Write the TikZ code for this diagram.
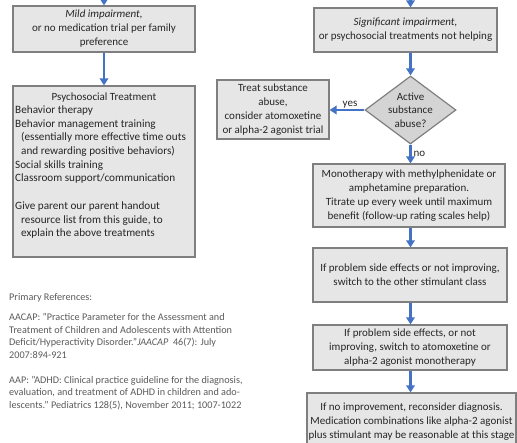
\documentclass[tikz,border=0pt]{standalone}
\usepackage{fontspec}
\setmainfont{Carlito}
\usetikzlibrary{arrows.meta,shapes.geometric,calc}

\definecolor{boxfill}{HTML}{E6E6E6}
\definecolor{boxline}{HTML}{7F7F7F}
\definecolor{diafill}{HTML}{D4D4D4}
\definecolor{flow}{HTML}{4472C4}
\definecolor{ink}{HTML}{262626}
\definecolor{refink}{HTML}{5A5A5A}

\begin{document}
\begin{tikzpicture}[x=1pt,y=-1pt,
  box/.style={draw=boxline, fill=boxfill, line width=1.2pt, inner sep=0pt,
    align=center, text=ink, font=\fontsize{11}{14}\selectfont},
  decision/.style={diamond, draw=boxline, fill=diafill, line width=1.2pt,
    inner sep=0pt},
  boxtext/.style={inner sep=0pt, text=ink, font=\fontsize{11}{13.5}\selectfont},
  listtext/.style={inner sep=0pt, text=ink, align=left,
    font=\fontsize{11.2}{13.7}\selectfont},
  reftext/.style={inner sep=0pt, text=refink, align=left,
    font=\fontsize{10.2}{12.5}\selectfont},
  flowarrow/.style={draw=flow, line width=2.2pt,
    -{Triangle[width=8.5pt,length=7pt]}},
]
\useasboundingbox (0,0) rectangle (517,442);

% ---- left column: non-medication path
\node[box, minimum width=182, minimum height=46] (mild) at (104,29)
  {\textit{Mild impairment,}\\or no medication trial per family\\preference};
\node[box, minimum width=182, minimum height=171] (psych) at (104,171.5) {};
\node[boxtext] (psyhead) at (104,97.5) {Psychosocial Treatment};
\node[listtext, anchor=north west] (psylist) at (15,105.5)
  {Behavior therapy\\
   Behavior management training\\
   \hspace*{6pt}(essentially more effective time outs\\
   \hspace*{6pt}and rewarding positive behaviors)\\
   Social skills training\\
   Classroom support/communication\\[13.7pt]
   Give parent our parent handout\\
   \hspace*{6pt}resource list from this guide, to\\
   \hspace*{6pt}explain the above treatments};

% ---- right column: medication path
\node[box, minimum width=183, minimum height=44] (sig) at (405.5,30)
  {\textit{Significant impairment,}\\or psychosocial treatments not helping};
\node[decision, minimum width=91, minimum height=68] (dia) at (410.5,110) {};
\node[boxtext, align=center] (diatext) at (410.5,110)
  {Active\\substance\\abuse?};
\node[box, minimum width=112, minimum height=59] (treat) at (273,109.5)
  {Treat substance\\abuse,\\consider atomoxetine\\or alpha-2 agonist trial};
\node[box, minimum width=192, minimum height=63] (mono) at (409,195.5)
  {Monotherapy with methylphenidate or\\amphetamine preparation.\\
   Titrate up every week until maximum\\benefit (follow-up rating scales help)};
\node[box, minimum width=194, minimum height=54] (other) at (410,275)
  {If problem side effects or not improving,\\switch to the other stimulant class};
\node[box, minimum width=194, minimum height=45] (atomo) at (410,347.5)
  {If problem side effects, or not\\improving, switch to atomoxetine or\\alpha-2 agonist monotherapy};
\node[box, minimum width=209, minimum height=57] (recon) at (411.5,421.5)
  {If no improvement, reconsider diagnosis.\\Medication combinations like alpha-2 agonist\\plus stimulant may be reasonable at this stage};

% ---- connectors
\coordinate (mildin) at (104,-3);
\coordinate (sigin) at (410.5,-3);
\draw[flowarrow] (mildin) -- (mild.north);
\draw[flowarrow] (mild.south) -- (psych.north);
\draw[flowarrow] (sigin) -- (sigin |- sig.north);
\draw[flowarrow] (dia.north |- sig.south) -- (dia.north);
\draw[flowarrow] (dia.west) -- (treat.east |- dia.west)
  node[midway, above=1pt, xshift=3pt, boxtext] (yes) {yes};
\draw[flowarrow] (dia.south) -- (dia.south |- mono.north)
  node[midway, right=2pt, boxtext] (no) {no};
\draw[flowarrow] (dia.south |- mono.south) -- (dia.south |- other.north);
\draw[flowarrow] (dia.south |- other.south) -- (dia.south |- atomo.north);
\draw[flowarrow] (dia.south |- atomo.south) -- (dia.south |- recon.north);

% ---- references
\node[reftext, anchor=north west] (refhead) at (9,293) {Primary References:};
\node[reftext, anchor=north west] (refbody) at (9,313.5)
  {AACAP: "Practice Parameter for the Assessment and\\
   Treatment of Children and Adolescents with Attention\\
   Deficit/Hyperactivity Disorder."\textit{JAACAP}\ \ 46(7): July\\
   2007:894-921\\[12.5pt]
   AAP: "ADHD: Clinical practice guideline for the diagnosis,\\
   evaluation, and treatment of ADHD in children and ado-\\
   lescents." Pediatrics 128(5), November 2011; 1007-1022};
\end{tikzpicture}
\end{document}
